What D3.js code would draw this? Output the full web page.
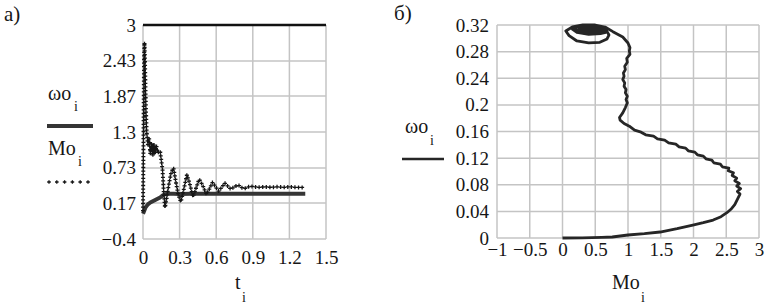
<!DOCTYPE html>
<html>
<head>
<meta charset="utf-8">
<script src="https://cdn.jsdelivr.net/npm/d3@7"></script>
</head>
<body style="margin:0">
<div id="chart"></div>
<script>
const width = 770;
const height = 305;

// panel а): time series
const timeW = [0, 0.01, 0.02, 0.04, 0.06, 0.08, 0.1, 0.12, 0.14, 0.16, 0.18, 0.2, 0.25, 0.3, 0.4, 0.6, 0.9, 1.33];
const omegaW = [0.0, 0.05, 0.1, 0.15, 0.18, 0.2, 0.22, 0.24, 0.26, 0.29, 0.31, 0.32, 0.32, 0.315, 0.32, 0.32, 0.32, 0.32];

const timeM = [0, 0.003, 0.006, 0.009, 0.012, 0.016, 0.02, 0.025, 0.03, 0.04, 0.05, 0.06, 0.07, 0.08, 0.09, 0.1, 0.11, 0.12, 0.14, 0.16, 0.17, 0.18, 0.19, 0.21, 0.23, 0.25, 0.27, 0.29, 0.31, 0.33, 0.36, 0.38, 0.41, 0.43, 0.46, 0.49, 0.52, 0.545, 0.57, 0.595, 0.62, 0.645, 0.67, 0.695, 0.72, 0.75, 0.78, 0.805, 0.83, 0.855, 0.88, 0.91, 0.95, 1.0, 1.05, 1.1, 1.15, 1.2, 1.25, 1.33];
const momentM = [0.05, 0.9, 1.8, 2.5, 2.72, 2.45, 2.0, 1.6, 1.3, 1.1, 1.2, 0.95, 1.12, 0.92, 1.1, 0.95, 1.08, 0.97, 1.0, 0.7, 0.35, 0.1, 0.2, 0.45, 0.65, 0.73, 0.5, 0.3, 0.19, 0.35, 0.62, 0.5, 0.27, 0.38, 0.55, 0.45, 0.31, 0.4, 0.5, 0.43, 0.36, 0.42, 0.49, 0.44, 0.39, 0.43, 0.46, 0.42, 0.40, 0.42, 0.44, 0.43, 0.42, 0.43, 0.42, 0.43, 0.42, 0.43, 0.42, 0.42];

const leftXTicks = [0, 0.3, 0.6, 0.9, 1.2, 1.5];
const leftYTicks = [-0.4, 0.17, 0.73, 1.3, 1.87, 2.43, 3];

// panel б): phase trajectory ω(M)
const phaseM = [0, 0.3, 0.6, 0.76, 1.0, 1.25, 1.49, 1.75, 1.99, 2.15, 2.3, 2.42, 2.51, 2.58, 2.63, 2.67, 2.71,
  2.67, 2.72, 2.66, 2.70, 2.63, 2.66, 2.59, 2.61, 2.53, 2.54, 2.44, 2.41, 2.31, 2.28, 2.19, 2.15, 2.06, 2.02, 1.92, 1.88, 1.78, 1.73, 1.62, 1.56, 1.45, 1.39, 1.27, 1.20, 1.10, 1.02, 0.94, 0.88,
  0.87, 0.92, 0.96, 0.99, 0.97, 0.99, 0.96, 0.97, 0.94, 0.95, 0.92, 0.94, 0.93, 0.96, 0.95, 0.99, 0.98, 1.03, 1.02, 1.03, 1.0, 0.92, 0.77,
  0.65, 0.50, 0.31, 0.15, 0.05, 0.10, 0.22, 0.40, 0.57, 0.68, 0.71, 0.67, 0.55, 0.36, 0.20, 0.15, 0.22, 0.40, 0.58, 0.66, 0.66, 0.56, 0.38, 0.22, 0.19, 0.28, 0.46, 0.61, 0.64, 0.55, 0.38, 0.25, 0.25, 0.37, 0.54, 0.60, 0.54, 0.40, 0.30, 0.32, 0.46, 0.56, 0.52, 0.40, 0.35, 0.41, 0.50, 0.47, 0.44];
const phaseW = [0, 0.0003, 0.001, 0.0015, 0.0045, 0.0065, 0.009, 0.014, 0.0195, 0.023, 0.027, 0.032, 0.038, 0.044, 0.050, 0.058, 0.066,
  0.070, 0.074, 0.078, 0.082, 0.086, 0.090, 0.094, 0.098, 0.101, 0.105, 0.107, 0.111, 0.113, 0.117, 0.119, 0.123, 0.125, 0.129, 0.131, 0.135, 0.137, 0.141, 0.143, 0.147, 0.149, 0.153, 0.155, 0.159, 0.162, 0.168, 0.172, 0.177,
  0.181, 0.188, 0.196, 0.203, 0.208, 0.213, 0.218, 0.223, 0.228, 0.233, 0.238, 0.243, 0.248, 0.253, 0.258, 0.264, 0.270, 0.276, 0.281, 0.286, 0.293, 0.302, 0.310,
  0.317, 0.320, 0.320, 0.317, 0.311, 0.304, 0.296, 0.293, 0.294, 0.299, 0.305, 0.312, 0.3175, 0.319, 0.318, 0.314, 0.309, 0.306, 0.307, 0.309, 0.313, 0.3175, 0.319, 0.318, 0.314, 0.310, 0.309, 0.310, 0.314, 0.317, 0.318, 0.317, 0.314, 0.311, 0.311, 0.313, 0.316, 0.317, 0.315, 0.312, 0.3125, 0.315, 0.3165, 0.316, 0.314, 0.3135, 0.3145, 0.315, 0.3145];

const rightXTicks = [-1, -0.5, 0, 0.5, 1, 1.5, 2, 2.5, 3];
const rightYTicks = [0, 0.04, 0.08, 0.12, 0.16, 0.2, 0.24, 0.28, 0.32];

const fmt = d => String(d).replace("-", "\u2212");
const gridColor = "#c4c4c4";
const ink = "#262626";
const textInk = "#161616";

const svg = d3.select("#chart")
    .append("svg")
    .attr("width", width)
    .attr("height", height);

svg.append("rect").attr("width", width).attr("height", height).attr("fill", "#fff");

function cleanAxis(g) {
    g.attr("font-family", null).attr("font-size", null);
    g.select(".domain").remove();
}

// ---------- panel а) ----------
const xL = d3.scaleLinear().domain([0, 1.5]).range([143, 326]);
const yL = d3.scaleLinear().domain([-0.4, 3]).range([239, 25]);

const gL = svg.append("g");

gL.append("g").selectAll("line")
    .data(leftXTicks)
    .join("line")
    .attr("x1", d => xL(d)).attr("x2", d => xL(d))
    .attr("y1", yL(-0.4)).attr("y2", yL(3))
    .attr("stroke", gridColor).attr("stroke-width", 1.5);

gL.append("g").selectAll("line")
    .data(leftYTicks)
    .join("line")
    .attr("x1", xL(0)).attr("x2", xL(1.5))
    .attr("y1", d => yL(d)).attr("y2", d => yL(d))
    .attr("stroke", gridColor).attr("stroke-width", 1.5);

// heavy line along the top of the frame
gL.append("line")
    .attr("x1", xL(0)).attr("x2", xL(1.5))
    .attr("y1", yL(3)).attr("y2", yL(3))
    .attr("stroke", "#111").attr("stroke-width", 2.5);

gL.append("g")
    .attr("transform", `translate(${xL(0) - 7},0)`)
    .call(d3.axisLeft(yL).tickValues(leftYTicks).tickSize(0).tickPadding(0).tickFormat(fmt))
    .call(cleanAxis);

gL.append("g")
    .attr("transform", `translate(0,${yL(-0.4) + 10})`)
    .call(d3.axisBottom(xL).tickValues(leftXTicks).tickSize(0).tickPadding(0).tickFormat(fmt))
    .call(cleanAxis)
    .selectAll("text")
    .attr("dy", "0.8em");

const lineW = d3.line()
    .x((d, i) => xL(timeW[i]))
    .y(d => yL(d));

gL.append("path")
    .datum(omegaW)
    .attr("d", lineW)
    .attr("fill", "none")
    .attr("stroke", "#353535")
    .attr("stroke-width", 4)
    .attr("stroke-linejoin", "round");

// dotted trace drawn as small crosses along the path
const lineM = d3.line()
    .x((d, i) => xL(timeM[i]))
    .y(d => yL(d));

const guide = gL.append("path")
    .datum(momentM)
    .attr("d", lineM)
    .attr("fill", "none")
    .attr("stroke", "none");

const node = guide.node();
const total = node.getTotalLength();
const marks = d3.range(0, total, 3.6).map(l => node.getPointAtLength(l));

function crosses(sel, pts, r) {
    sel.append("path")
        .attr("d", pts.map(p => `M${p.x - r},${p.y}h${2 * r}M${p.x},${p.y - r}v${2 * r}`).join(""))
        .attr("stroke", "#151515")
        .attr("stroke-width", 1.3)
        .attr("fill", "none");
}
crosses(gL, marks, 2);

// legend + labels, panel а)
svg.append("text").attr("x", 4).attr("y", 21).attr("font-size", 21).text("а)");

const legL = svg.append("g");
legL.append("text").attr("x", 48).attr("y", 100).attr("font-size", 20).text("ωo");
legL.append("text").attr("x", 74).attr("y", 111).attr("font-size", 14).text("i");
legL.append("line")
    .attr("x1", 47).attr("x2", 93).attr("y1", 126).attr("y2", 126)
    .attr("stroke", "#353535").attr("stroke-width", 4);
legL.append("text").attr("x", 48).attr("y", 155).attr("font-size", 20).text("Mo");
legL.append("text").attr("x", 78).attr("y", 166).attr("font-size", 14).text("i");
crosses(legL, d3.range(6).map(i => ({x: 49 + i * 7.8, y: 182})), 1.8);

svg.append("text").attr("x", 235).attr("y", 289).attr("font-size", 20).text("t");
svg.append("text").attr("x", 242).attr("y", 302).attr("font-size", 14).text("i");

// ---------- panel б) ----------
const xR = d3.scaleLinear().domain([-1, 3]).range([497, 759]);
const yR = d3.scaleLinear().domain([0, 0.32]).range([238, 25]);

const gR = svg.append("g");

gR.append("g").selectAll("line")
    .data(rightXTicks)
    .join("line")
    .attr("x1", d => xR(d)).attr("x2", d => xR(d))
    .attr("y1", yR(0)).attr("y2", yR(0.32))
    .attr("stroke", gridColor).attr("stroke-width", 1.5);

gR.append("g").selectAll("line")
    .data(rightYTicks)
    .join("line")
    .attr("x1", xR(-1)).attr("x2", xR(3))
    .attr("y1", d => yR(d)).attr("y2", d => yR(d))
    .attr("stroke", gridColor).attr("stroke-width", 1.5);

gR.append("g")
    .attr("transform", `translate(${xR(-1) - 8},0)`)
    .call(d3.axisLeft(yR).tickValues(rightYTicks).tickSize(0).tickPadding(0).tickFormat(fmt))
    .call(cleanAxis);

gR.append("g")
    .attr("transform", `translate(0,${yR(0) + 3})`)
    .call(d3.axisBottom(xR).tickValues(rightXTicks).tickSize(0).tickPadding(0).tickFormat(fmt))
    .call(cleanAxis)
    .selectAll("text")
    .attr("dy", "0.8em");

const linePhase = d3.line()
    .x(d => xR(d))
    .y((d, i) => yR(phaseW[i]));

gR.append("path")
    .datum(phaseM)
    .attr("d", linePhase)
    .attr("fill", "none")
    .attr("stroke", ink)
    .attr("stroke-width", 2.8)
    .attr("stroke-linejoin", "round");

svg.append("text").attr("x", 394).attr("y", 20).attr("font-size", 21).text("б)");
svg.append("text").attr("x", 405).attr("y", 133).attr("font-size", 20).text("ωo");
svg.append("text").attr("x", 430).attr("y", 145).attr("font-size", 14).text("i");
svg.append("line")
    .attr("x1", 402).attr("x2", 444).attr("y1", 159).attr("y2", 159)
    .attr("stroke", ink).attr("stroke-width", 2.5);

svg.append("text").attr("x", 612).attr("y", 289).attr("font-size", 20).text("Mo");
svg.append("text").attr("x", 641).attr("y", 302).attr("font-size", 14).text("i");

// serif font for every text element
svg.selectAll("text")
    .each(function() {
        const size = this.getAttribute("font-size") || 19;
        d3.select(this)
            .attr("font-family", "Liberation Serif")
            .attr("font-size", size)
            .style("font-family", "'Liberation Serif'", "important")
            .style("font-size", size + "px")
            .attr("fill", textInk);
    });
</script>
</body>
</html>
